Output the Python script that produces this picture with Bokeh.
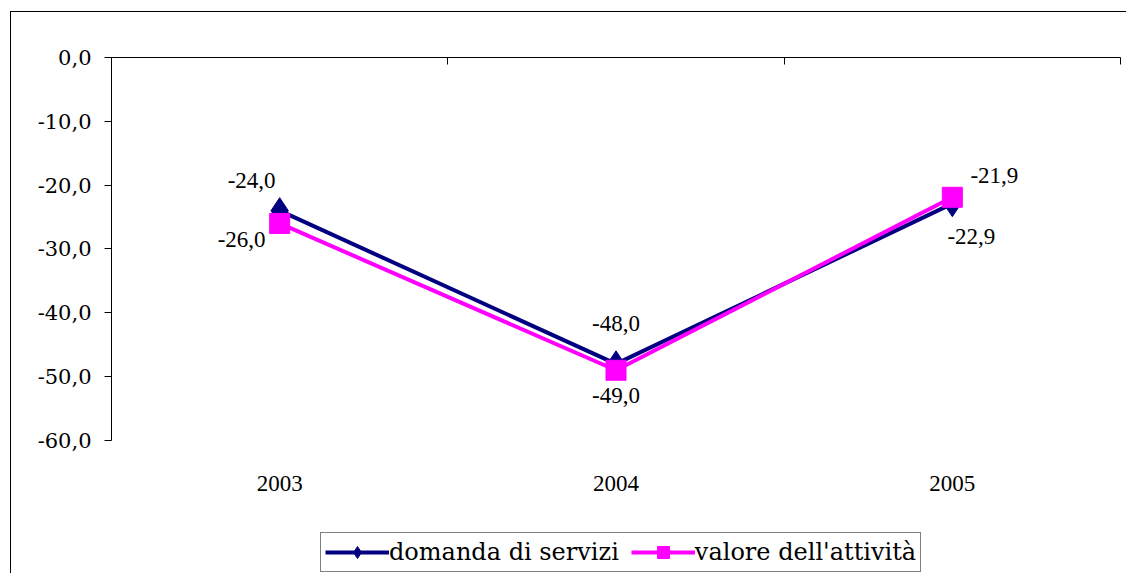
from bokeh.plotting import figure
from bokeh.models import (ColumnDataSource, FixedTicker, LinearAxis, Legend,
                          LegendItem, LabelSet, Range1d)
from bokeh.embed import file_html
from bokeh.resources import INLINE

# ---- data ----
years = ["2003", "2004", "2005"]
domanda = [-24.0, -48.0, -22.9]
valore = [-26.0, -49.0, -21.9]
y_ticks = [0, -10, -20, -30, -40, -50, -60]
y_tick_labels = ["0,0", "-10,0", "-20,0", "-30,0", "-40,0", "-50,0", "-60,0"]
series_names = ["domanda di servizi", "valore dell'attività"]

# ---- styles ----
FONT = "DejaVu Serif"
NAVY = "#000080"
MAGENTA = "#FF00FF"
# label offsets (screen px, positive y = up)
dom_dx = [-28, 0, 19]
dom_dy = [30, 40, -33]
val_dx = [-38, 0, 42]
val_dy = [-16, -25, 22]

y_min, y_max = min(y_ticks), max(y_ticks)
xs = [i + 0.5 for i in range(len(years))]
fmt = lambda v: f"{v:.1f}".replace(".", ",")

# frame extends below the value axis to host category labels and legend
p = figure(width=1116, height=562, x_range=Range1d(0, len(years)),
           y_range=Range1d(y_min - 21.0, y_max), output_backend="svg",
           toolbar_location=None, x_axis_location=None, y_axis_location=None,
           min_border_left=100, min_border_right=7, min_border_top=45,
           min_border_bottom=0)
p.styles = {"margin-left": "10px", "margin-top": "11px",
            "border-left": "1px solid black", "border-top": "1px solid black"}
p.outline_line_color = None
p.xgrid.visible = False
p.ygrid.visible = False
p.background_fill_color = "white"
p.border_fill_color = "white"

# left y axis
yax = LinearAxis(ticker=FixedTicker(ticks=y_ticks), bounds=(y_min, y_max))
yax.major_label_overrides = {t: l for t, l in zip(y_ticks, y_tick_labels)}
yax.major_label_text_font = FONT
yax.major_label_text_font_size = "21px"
yax.major_label_text_color = "black"
yax.major_tick_in = 0
yax.major_tick_out = 7
yax.minor_tick_line_color = None
yax.major_label_standoff = 13
yax.axis_line_color = "black"
yax.major_tick_line_color = "black"
p.add_layout(yax, "left")

# top axis (line at 0 with category boundary ticks)
bticks = list(range(len(years) + 1))
tax = LinearAxis(ticker=FixedTicker(ticks=bticks))
tax.major_label_overrides = {t: "" for t in bticks}
tax.major_label_standoff = 0
tax.major_tick_in = 7
tax.major_tick_out = 0
tax.minor_tick_line_color = None
tax.axis_line_color = "black"
tax.major_tick_line_color = "black"
p.add_layout(tax, "above")

# category labels under the value axis
src_y = ColumnDataSource(dict(x=xs, y=[y_min] * len(xs), t=years))
p.add_layout(LabelSet(x="x", y="y", text="t", source=src_y, y_offset=-43,
                      text_align="center", text_baseline="middle",
                      text_font=FONT, text_font_size="23px",
                      text_color="black"))

src_d = ColumnDataSource(dict(x=xs, y=domanda, t=[fmt(v) for v in domanda],
                              dx=dom_dx, dy=dom_dy))
src_v = ColumnDataSource(dict(x=xs, y=valore, t=[fmt(v) for v in valore],
                              dx=val_dx, dy=val_dy))

l1 = p.line("x", "y", source=src_d, line_color=NAVY, line_width=4)
m1 = p.scatter("x", "y", source=src_d, marker="diamond", size=26,
               fill_color=NAVY, line_color=NAVY)
l2 = p.line("x", "y", source=src_v, line_color=MAGENTA, line_width=4)
m2 = p.scatter("x", "y", source=src_v, marker="square", size=20,
               fill_color=MAGENTA, line_color=MAGENTA)

for src in (src_d, src_v):
    p.add_layout(LabelSet(x="x", y="y", text="t", source=src, x_offset="dx",
                          y_offset="dy", text_align="center",
                          text_baseline="middle", text_font=FONT,
                          text_font_size="23px", text_color="black"))

legend = Legend(items=[LegendItem(label=series_names[0], renderers=[l1, m1]),
                       LegendItem(label=series_names[1], renderers=[l2, m2])],
                orientation="horizontal", location=(209, 2),
                label_text_font=FONT, label_text_font_size="24px",
                label_text_color="black", glyph_width=64, glyph_height=30,
                label_standoff=0, spacing=12, padding=4, margin=0,
                border_line_color="black", border_line_width=1,
                background_fill_color="white", background_fill_alpha=1)
p.add_layout(legend, "center")

open("out.html", "w").write(file_html(p, INLINE))
